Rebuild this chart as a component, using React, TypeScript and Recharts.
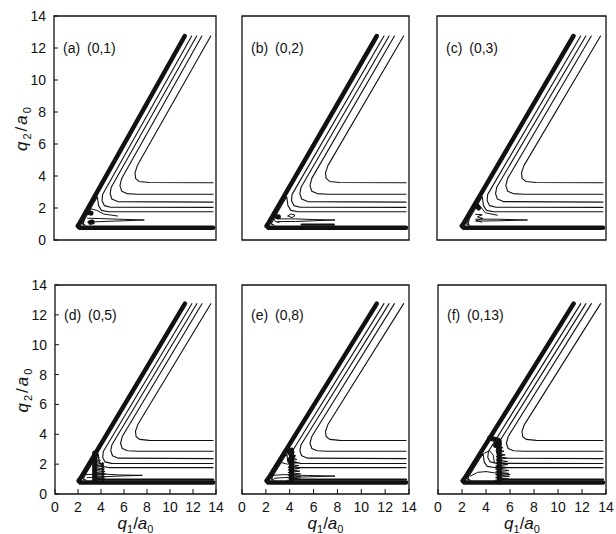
import React from 'react';
import { ComposedChart, Line, XAxis, YAxis, ReferenceArea } from 'recharts';

type Pair = [number, number];

const axisTicks = [0, 2, 4, 6, 8, 10, 12, 14];
const panelLabels = ['(a) (0,1)', '(b) (0,2)', '(c) (0,3)', '(d) (0,5)', '(e) (0,8)', '(f) (0,13)'];

// contours shared by all panels, (q1, q2) in units of a0
const wallLine: Pair[] = [[11.3, 12.75], [2.25, 1.1], [2.05, 0.88], [2.2, 0.77], [2.6, 0.77], [13.75, 0.77]];
const contour1: Pair[] = [[13.55, 12.75], [7.2, 4.65], [7.0, 4.2], [7.05, 3.85], [7.35, 3.66], [8.2, 3.59], [13.75, 3.58]];
const contour2: Pair[] = [[12.78, 12.75], [5.85, 3.85], [5.7, 3.4], [5.85, 3.05], [6.3, 2.9], [7.2, 2.86], [13.75, 2.86]];
const contour3: Pair[] = [[12.33, 12.75], [4.95, 3.3], [4.85, 2.9], [5.0, 2.56], [5.5, 2.4], [13.75, 2.37]];
const contour4: Pair[] = [[11.9, 12.75], [4.2, 2.85], [4.15, 2.45], [4.35, 2.15], [4.9, 2.05], [13.75, 2.04]];
const contour5: Pair[] = [[13.75, 1.77], [4.7, 1.77], [4.1, 1.85], [3.85, 2.15], [3.75, 2.7], [3.5, 2.4], [2.65, 1.3], [2.45, 1.0], [2.7, 0.92]];

// (a)
const aTear: Pair[] = [[2.9, 1.36], [4, 1.34], [6, 1.29], [7.8, 1.25], [6, 1.2], [4, 1.15], [2.9, 1.12]];
const aLoop: Pair[] = [[2.55, 1.0], [2.6, 1.35], [2.85, 1.75], [3.2, 1.95], [3.7, 1.85], [4.3, 1.62], [5.5, 1.5]];
const aBlob1: Pair[] = [[3.0, 1.72], [3.2, 1.68]];
const aBlob2: Pair[] = [[3.15, 1.1], [3.3, 1.12]];

// (b)
const bTear: Pair[] = [[3.0, 1.32], [4.5, 1.32], [6, 1.28], [7.8, 1.25], [6, 1.2], [4.5, 1.16], [3.0, 1.15]];
const bRing: Pair[] = [[3.85, 1.5], [4.1, 1.63], [4.45, 1.55], [4.2, 1.4], [3.85, 1.5]];
const bCrescent: Pair[] = [[3.0, 1.75], [2.75, 1.6], [2.65, 1.35], [2.8, 1.15], [3.1, 1.1]];
const bBlob: Pair[] = [[2.95, 1.45], [3.05, 1.45]];
const bLow: Pair[] = [[5.0, 0.96], [7.7, 0.96]];

// (c)
const cTear: Pair[] = [[3.2, 1.3], [5, 1.3], [7.5, 1.25], [5, 1.2], [3.2, 1.18]];
const cLoop: Pair[] = [[2.6, 1.0], [2.7, 1.5], [3.0, 1.95], [3.3, 2.3], [3.6, 2.1], [4.0, 1.7], [5.0, 1.55]];
const cSquiggle: Pair[] = [[3.2, 1.6], [3.75, 1.58], [3.35, 1.45], [3.8, 1.35], [3.25, 1.22], [3.7, 1.12]];
const cBlob: Pair[] = [[3.3, 2.15], [3.45, 2.0]];

// (d)
const dTear: Pair[] = [[2.7, 1.3], [4, 1.35], [5.5, 1.28], [7.6, 1.25], [5.5, 1.2], [4, 1.15], [2.8, 1.1]];
const dHair: Pair[] = [[3.25, 0.92], [4.35, 1.0], [3.3, 1.08], [4.4, 1.16], [3.3, 1.25], [4.4, 1.33], [3.3, 1.42], [4.35, 1.5], [3.3, 1.6], [4.3, 1.68], [3.3, 1.78], [4.25, 1.86], [3.3, 1.95], [4.1, 2.04], [3.35, 2.14], [3.95, 2.24], [3.4, 2.34], [3.85, 2.45], [3.45, 2.55]];
const dBand: Pair[] = [[3.45, 0.85], [3.45, 2.75]];
const dBand2: Pair[] = [[4.15, 0.9], [4.15, 2.05]];
const dLow: Pair[] = [[3.5, 0.97], [13.75, 0.97]];

// (e)
const eTear: Pair[] = [[2.6, 1.25], [3.5, 1.3], [5.5, 1.24], [7.8, 1.2], [5.5, 1.15], [3.5, 1.1], [2.7, 1.05]];
const eLoop: Pair[] = [[2.5, 1.0], [2.6, 1.4], [2.9, 1.85], [3.3, 2.1], [3.8, 2.0]];
const eHair: Pair[] = [[3.8, 0.92], [4.9, 1.0], [3.85, 1.09], [4.95, 1.17], [3.85, 1.26], [4.9, 1.35], [3.85, 1.44], [4.85, 1.53], [3.85, 1.62], [4.8, 1.71], [3.85, 1.8], [4.75, 1.9], [3.9, 2.0], [4.7, 2.1], [3.95, 2.2], [4.6, 2.32], [4.0, 2.44], [4.5, 2.56], [4.05, 2.68], [4.4, 2.8], [4.1, 2.92]];
const eBand: Pair[] = [[4.15, 0.82], [4.15, 2.95]];
const eBlob: Pair[] = [[3.85, 2.95], [4.25, 2.5], [4.0, 2.3]];
const eLow: Pair[] = [[4.2, 0.97], [13.75, 0.97]];

// (f)
const fLoop: Pair[] = [[2.5, 1.0], [2.6, 1.45], [2.9, 1.95], [3.4, 2.4], [3.9, 2.75], [4.3, 2.9], [4.6, 2.6], [4.7, 2.1]];
const fTear: Pair[] = [[2.7, 1.2], [3.3, 1.45], [4.0, 1.5], [4.7, 1.42], [6.0, 1.3]];
const fHair: Pair[] = [[4.75, 0.92], [5.9, 1.0], [4.8, 1.1], [5.95, 1.19], [4.8, 1.29], [5.9, 1.38], [4.8, 1.48], [5.9, 1.57], [4.8, 1.67], [5.85, 1.77], [4.8, 1.87], [5.8, 1.97], [4.85, 2.07], [5.8, 2.18], [4.85, 2.29], [5.7, 2.4], [4.85, 2.51], [5.6, 2.62], [4.9, 2.74], [5.5, 2.86], [4.9, 2.98], [5.4, 3.1], [4.95, 3.22], [5.3, 3.35], [5.0, 3.48]];
const fBand: Pair[] = [[5.1, 0.8], [5.1, 3.55]];
const fBlob: Pair[] = [[4.3, 3.75], [5.0, 3.6], [4.8, 3.25]];
const fLow: Pair[] = [[5.1, 0.97], [13.75, 0.97]];

const sharedThin = [contour1, contour2, contour3, contour4, contour5];

const panelThin: Pair[][][] = [
  [aTear, aLoop],
  [bTear, bRing, bCrescent],
  [cTear, cLoop, cSquiggle],
  [dTear, dHair],
  [eTear, eLoop, eHair],
  [fLoop, fTear, fHair],
];
const panelMedium: Pair[][][] = [[], [bLow], [], [dLow, dBand2], [eLow], [fLow]];
const panelBold: Pair[][][] = [[aBlob1, aBlob2], [bBlob], [cBlob], [dBand], [eBand, eBlob], [fBand, fBlob]];

// plot-area boxes on the page
const frames = [
  { left: 54, top: 16, width: 162, height: 224 },
  { left: 242, top: 16, width: 167, height: 224 },
  { left: 437, top: 16, width: 169, height: 224 },
  { left: 55, top: 285, width: 161, height: 209 },
  { left: 242, top: 285, width: 167, height: 209 },
  { left: 438, top: 285, width: 168, height: 209 },
];

const FONT = '"Liberation Sans", Arial, Helvetica, sans-serif';
const INK = '#111';

const toPts = (arr: Pair[]) => arr.map(([x, y]) => ({ x, y }));

const YTick = (props: any) => {
  const { x, y, payload } = props;
  return (
    <g>
      <line x1={x + 8} x2={x + 12} y1={y} y2={y} stroke={INK} strokeWidth={1} />
      <text x={x} y={y} dy={5} textAnchor="end" fontSize={14} fill={INK} fontFamily={FONT}>
        {payload.value}
      </text>
    </g>
  );
};

const XTick = (props: any) => {
  const { x, y, payload } = props;
  return (
    <g>
      <line x1={x} x2={x} y1={y - 6} y2={y - 11} stroke={INK} strokeWidth={1} />
      <text x={x} y={y} dy={12} textAnchor="middle" fontSize={14} fill={INK} fontFamily={FONT}>
        {payload.value}
      </text>
    </g>
  );
};

const XName = (props: any) => {
  const vb = props.viewBox;
  const cx = vb.x + vb.width / 2;
  const cy = vb.y + 35;
  return (
    <text x={cx} y={cy} textAnchor="middle" fontSize={17} fill={INK} fontFamily={FONT}>
      <tspan fontStyle="italic">q</tspan>
      <tspan fontSize={11} dy={4}>1</tspan>
      <tspan dy={-4}>/</tspan>
      <tspan fontStyle="italic">a</tspan>
      <tspan fontSize={11} dy={4}>0</tspan>
    </text>
  );
};

const YName = (props: any) => {
  const vb = props.viewBox;
  const cx = vb.x + 13;
  const cy = vb.y + vb.height / 2;
  return (
    <text
      x={cx}
      y={cy}
      transform={`rotate(-90 ${cx} ${cy})`}
      textAnchor="middle"
      fontSize={17}
      letterSpacing={2}
      fill={INK}
      fontFamily={FONT}
    >
      <tspan fontStyle="italic">q</tspan>
      <tspan fontSize={11} dy={4}>2</tspan>
      <tspan dy={-4}>/</tspan>
      <tspan fontStyle="italic">a</tspan>
      <tspan fontSize={11} dy={4}>0</tspan>
    </text>
  );
};

const curve = (pts: Pair[], width: number, key: string) => (
  <Line
    key={key}
    data={toPts(pts)}
    dataKey="y"
    type="linear"
    stroke={INK}
    strokeWidth={width}
    strokeLinecap="round"
    strokeLinejoin="round"
    dot={false}
    activeDot={false}
    legendType="none"
    isAnimationActive={false}
  />
);

const Panel = ({ idx }: { idx: number }) => {
  const f = frames[idx];
  const showY = idx % 3 === 0;
  const showX = idx >= 3;
  const margin = { top: 10, right: 14, left: showY ? 10 : 50, bottom: showX ? 15 : 45 };
  return (
    <div style={{ position: 'absolute', left: f.left - 50, top: f.top - 10 }}>
      <ComposedChart width={f.width + 64} height={f.height + 55} margin={margin}>
        <XAxis
          type="number"
          dataKey="x"
          domain={[0, 14]}
          ticks={axisTicks}
          interval={0}
          allowDataOverflow
          hide={!showX}
          height={30}
          axisLine={false}
          tickLine={false}
          tickSize={0}
          tickMargin={6}
          tick={<XTick />}
          label={XName}
        />
        <YAxis
          type="number"
          dataKey="y"
          domain={[0, 14]}
          ticks={axisTicks}
          interval={0}
          allowDataOverflow
          hide={!showY}
          width={40}
          axisLine={false}
          tickLine={false}
          tickSize={0}
          tickMargin={8}
          tick={<YTick />}
          label={YName}
        />
        <ReferenceArea x1={0} x2={14} y1={0} y2={14} fill="none" stroke={INK} strokeWidth={1.3} ifOverflow="visible" />
        {curve(wallLine, 4.5, 'wall')}
        {sharedThin.map((c, i) => curve(c, 1.1, `s${i}`))}
        {panelThin[idx].map((c, i) => curve(c, 1, `t${i}`))}
        {panelMedium[idx].map((c, i) => curve(c, 2.2, `m${i}`))}
        {panelBold[idx].map((c, i) => curve(c, 5, `b${i}`))}
      </ComposedChart>
      <div
        style={{
          position: 'absolute',
          left: 59,
          top: 10 + (f.height * 2) / 14 - 9,
          fontFamily: FONT,
          fontSize: 14,
          lineHeight: '18px',
          wordSpacing: 3,
          color: INK,
          whiteSpace: 'nowrap',
        }}
      >
        {panelLabels[idx]}
      </div>
    </div>
  );
};

export default function App() {
  return (
    <div style={{ position: 'absolute', left: 0, top: 0, width: 616, height: 534, background: '#fff' }}>
      {frames.map((_, i) => (
        <Panel key={i} idx={i} />
      ))}
    </div>
  );
}
